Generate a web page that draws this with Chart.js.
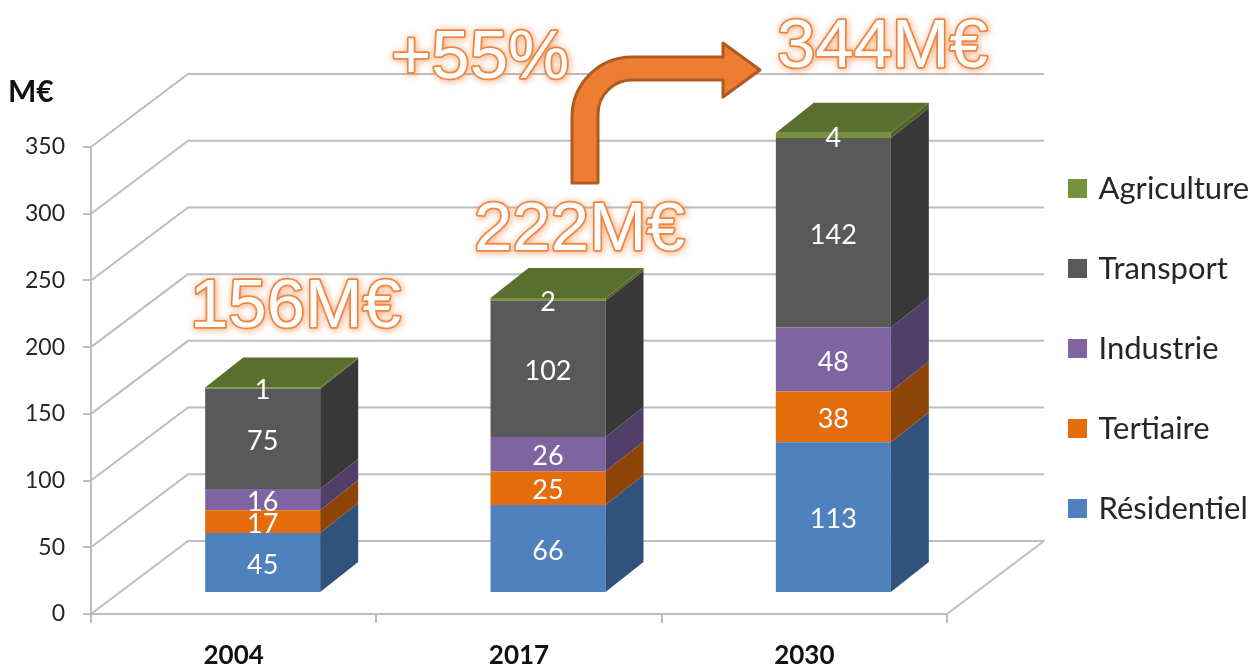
<!DOCTYPE html>
<html><head><meta charset="utf-8">
<style>html,body{margin:0;padding:0;background:#fff}canvas{display:block;filter:blur(0.6px)}</style>
<script src="https://cdn.jsdelivr.net/npm/chart.js@4"></script>
</head><body><canvas id="c" width="1258" height="666"></canvas>
<script>
const categories = ['2004','2017','2030'];
const seriesNames = ['Résidentiel','Tertiaire','Industrie','Transport','Agriculture'];
const residentiel = [45,66,113];
const tertiaire = [17,25,38];
const industrie = [16,26,48];
const transport = [75,102,142];
const agriculture = [1,2,4];
const frontColors = ['#4F81BD','#E46C0A','#8064A2','#595959','#76923C'];
const sideColors = ['#30527C','#8F4407','#513F6A','#383838','#4F6228'];
const topColor = '#5A6F2D';
const unitLabel = 'M€';
const callouts = [['156M€',190,327],['222M€',474,250],['344M€',777,67],['+55%',391,78]];
const FONT = 'Lato, "Open Sans", sans-serif';
const GRID = '#BDBDBD';
const WALL = {dx:97, dy:-73};
const BAR = {dx:29, dy:-21, depthX:38, depthY:-30};

const threeD = {
  id:'threeD',
  beforeLayout(chart){
    const lg = chart.legend;
    if(lg && !lg._fitPatched){
      const f = lg.fit;
      lg.fit = function(){ f.call(this); this.width = 311; };
      lg._fitPatched = true;
    }
  },
  afterLayout(chart){ chart.legend.left = 1023; chart.legend.top = 124; },
  beforeDatasetsDraw(chart){
    const {ctx, chartArea:a, scales:{y}} = chart;
    ctx.save();
    ctx.strokeStyle = GRID; ctx.lineWidth = 2; ctx.lineJoin='round';
    y.ticks.forEach(t=>{
      const p = y.getPixelForValue(t.value);
      ctx.beginPath();
      ctx.moveTo(a.left,p);
      ctx.lineTo(a.left+WALL.dx,p+WALL.dy);
      ctx.lineTo(a.right+WALL.dx,p+WALL.dy);
      if(t.value===0) ctx.lineTo(a.right,p);
      ctx.stroke();
    });
    ctx.restore();
    ctx.save();
    ctx.translate(BAR.dx,BAR.dy);
  },
  afterDatasetsDraw(chart){
    const {ctx} = chart;
    const last = chart.data.datasets.length-1;
    chart.data.datasets.forEach((ds,i)=>{
      chart.getDatasetMeta(i).data.forEach(el=>{
        const {x,y,base,width} = el.getProps(['x','y','base','width'],true);
        const r = x+width/2, l = x-width/2;
        ctx.fillStyle = sideColors[i];
        ctx.beginPath();
        ctx.moveTo(r,y); ctx.lineTo(r+BAR.depthX,y+BAR.depthY);
        ctx.lineTo(r+BAR.depthX,base+BAR.depthY); ctx.lineTo(r,base);
        ctx.closePath(); ctx.fill();
        if(i===last){
          ctx.fillStyle = topColor;
          ctx.beginPath();
          ctx.moveTo(l,y); ctx.lineTo(r,y);
          ctx.lineTo(r+BAR.depthX,y+BAR.depthY); ctx.lineTo(l+BAR.depthX,y+BAR.depthY);
          ctx.closePath(); ctx.fill();
        }
      });
    });
    ctx.fillStyle='#fff'; ctx.font='27px '+FONT; ctx.textAlign='center'; ctx.textBaseline='middle';
    chart.data.datasets.forEach((ds,i)=>{
      chart.getDatasetMeta(i).data.forEach((el,j)=>{
        const {x,y,base} = el.getProps(['x','y','base'],true);
        ctx.fillText(String(ds.data[j]),x,(y+base)/2+2.5);
      });
    });
    ctx.restore();
  },
  afterDraw(chart){
    const {ctx} = chart;
    ctx.save();
    ctx.fillStyle='#111'; ctx.font='bold 30px '+FONT; ctx.textAlign='left'; ctx.textBaseline='middle';
    ctx.fillText(unitLabel,8,92);
    // growth arrow
    ctx.fillStyle='#ED7D31'; ctx.strokeStyle='#AE5A21'; ctx.lineWidth=3; ctx.lineJoin='round';
    ctx.beginPath();
    ctx.moveTo(572,183); ctx.lineTo(572,117);
    ctx.arcTo(572,57,632,57,60);
    ctx.lineTo(723,57); ctx.lineTo(723,43); ctx.lineTo(760,70); ctx.lineTo(723,97); ctx.lineTo(723,80);
    ctx.lineTo(632,80);
    ctx.arcTo(598,80,598,114,34);
    ctx.lineTo(598,183); ctx.closePath();
    ctx.fill(); ctx.stroke();
    // outlined callouts
    ctx.font='69px "Liberation Sans", Arial, sans-serif'; ctx.textBaseline='alphabetic'; ctx.lineJoin='round';
    callouts.forEach(([s,x,y])=>{
      ctx.save();
      ctx.shadowColor='rgba(237,125,49,0.8)'; ctx.shadowBlur=7; ctx.shadowOffsetX=1; ctx.shadowOffsetY=1;
      ctx.strokeStyle='#EF8540'; ctx.lineWidth=3.5;
      ctx.strokeText(s,x,y);
      ctx.restore();
      ctx.fillStyle='#fff'; ctx.fillText(s,x,y);
    });
    ctx.restore();
  }
};

const series = [residentiel,tertiaire,industrie,transport,agriculture];
new Chart(document.getElementById('c'),{
  type:'bar',
  data:{labels:categories,datasets:series.map((d,i)=>({
    label:seriesNames[i],data:d,backgroundColor:frontColors[i],borderWidth:0,
    barPercentage:0.403,categoryPercentage:1,clip:false
  }))},
  options:{
    responsive:false,animation:false,
    layout:{padding:{top:147,left:0,right:0,bottom:0}},
    plugins:{
      tooltip:{enabled:false},
      legend:{position:'right',align:'start',reverse:true,
        labels:{boxWidth:11,boxHeight:11,padding:49,color:'#262626',font:{family:FONT,size:31},
          generateLabels(chart){
            return Chart.defaults.plugins.legend.labels.generateLabels(chart).map(it=>({...it,lineWidth:8,strokeStyle:it.fillStyle}));
          }}}
    },
    scales:{
      x:{stacked:true,
        afterFit(s){s.height=52;},
        grid:{drawOnChartArea:false,drawTicks:true,tickLength:9,color:GRID,lineWidth:2},
        border:{color:GRID,width:2},
        ticks:{color:'#111',padding:17,font:{family:FONT,size:26,weight:'bold'}}},
      y:{stacked:true,min:0,max:350,
        afterFit(s){s.width=91;},
        grid:{drawOnChartArea:false,drawTicks:true,tickLength:8,color:GRID,lineWidth:2},
        border:{color:GRID,width:2},
        ticks:{stepSize:50,color:'#262626',padding:18,font:{family:FONT,size:23}}}
    }
  },
  plugins:[threeD]
});
</script></body></html>
